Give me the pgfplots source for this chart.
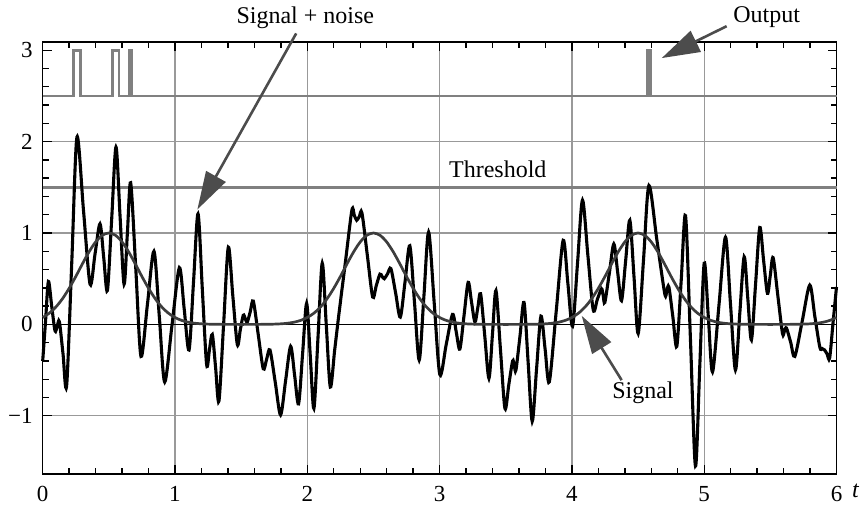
\documentclass[border=0pt]{standalone}
\usepackage{fontspec}
\setmainfont{Liberation Serif}
\usepackage{pgfplots}
\pgfplotsset{compat=1.18}
\usetikzlibrary{arrows.meta}
\definecolor{gridgray}{gray}{0.6}
\definecolor{sig}{gray}{0.24}
\definecolor{thr}{gray}{0.5}
\definecolor{arr}{gray}{0.3}
\begin{document}
\begin{tikzpicture}
\path[use as bounding box] (-21.35pt,-16.35pt) rectangle (410.65pt,237.15pt);
\begin{axis}[
  at={(0pt,0pt)}, anchor=south west,
  scale only axis, width=396.9pt, height=216.15pt,
  xmin=0, xmax=6, ymin=-1.64, ymax=3.09,
  clip=false,
  axis line style={line width=0.8pt},
  tick align=inside,
  xtick={0,1,2,3,4,5,6}, xticklabels={0,1,2,3,4,5,6},
  ytick={-1,0,1,2,3}, yticklabels={−1,0,1,2,3},
  minor x tick num=4, minor y tick num=4,
  major tick length=4.5pt, minor tick length=3pt,
  every tick/.style={black, line width=0.7pt},
  xmajorgrids, grid style={gridgray, line width=0.7pt},
  extra y ticks={-1,1,2}, extra y tick labels={,,},
  extra y tick style={grid=major},
  tick label style={font=\fontsize{11.5}{13}\selectfont},
  xtick pos=both, ytick pos=both,
  xticklabel pos=lower, yticklabel pos=left,
  xticklabel style={yshift=-2.5pt},
  yticklabel style={xshift=-1.5pt},
]
% zero line and threshold
\addplot[black, line width=0.6pt] coordinates {(0,0) (6,0)};
\addplot[thr, line width=1.3pt] coordinates {(0,1.5) (6,1.5)};
% output
\addplot[thr, line width=1.3pt, sharp plot] coordinates {
(0,2.5) (0.231,2.5) (0.231,3) (0.287,3) (0.287,2.5)
(0.526,2.5) (0.526,3) (0.577,3) (0.577,2.5)
(0.658,2.5) (0.658,3) (0.676,3) (0.676,2.5)
(4.572,2.5) (4.572,3) (4.592,3) (4.592,2.5) (6,2.5)};
% signal + noise
\addplot[black, line width=1.55pt, smooth] coordinates {
(0.000,-0.40) (0.0215,0.035) (0.043,0.47) (0.068,0.20) (0.093,-0.07) (0.1095,-0.02)
(0.126,0.03) (0.1535,-0.32) (0.181,-0.67) (0.220,0.69) (0.259,2.05) (0.3085,1.245)
(0.358,0.44) (0.3955,0.77) (0.433,1.10) (0.461,0.735) (0.489,0.37) (0.5215,1.155)
(0.554,1.94) (0.5845,1.19) (0.615,0.44) (0.640,0.995) (0.665,1.55) (0.704,0.60)
(0.743,-0.35) (0.792,0.225) (0.841,0.80) (0.8815,0.085) (0.922,-0.63) (0.9775,-0.005)
(1.033,0.62) (1.0695,0.17) (1.106,-0.28) (1.140,0.465) (1.174,1.21) (1.2065,0.385)
(1.239,-0.44) (1.2605,-0.275) (1.282,-0.11) (1.307,-0.475) (1.332,-0.84) (1.3675,0.0025)
(1.403,0.845) (1.437,0.3125) (1.471,-0.22) (1.4935,-0.06) (1.516,0.10) (1.531,0.0625)
(1.546,0.025) (1.569,0.14) (1.592,0.255) (1.6295,-0.115) (1.667,-0.485) (1.6925,-0.3825)
(1.718,-0.28) (1.758,-0.635) (1.798,-0.99) (1.836,-0.615) (1.874,-0.24) (1.904,-0.555)
(1.934,-0.87) (1.9645,-0.32) (1.995,0.23) (2.0225,-0.345) (2.050,-0.92) (2.0815,-0.125)
(2.113,0.67) (2.1435,-0.0075) (2.174,-0.685) (2.207,-0.28) (2.240,0.125) (2.2885,0.6875)
(2.337,1.25) (2.355,1.195) (2.373,1.14) (2.393,1.18) (2.413,1.22) (2.4535,0.76)
(2.494,0.30) (2.5215,0.425) (2.549,0.55) (2.5655,0.525) (2.582,0.50) (2.607,0.555)
(2.632,0.61) (2.6675,0.345) (2.703,0.08) (2.739,0.47) (2.775,0.86) (2.8105,0.235)
(2.846,-0.39) (2.8815,0.31) (2.917,1.01) (2.9595,0.23) (3.002,-0.55) (3.050,-0.22)
(3.098,0.11) (3.1255,-0.08) (3.153,-0.27) (3.1845,0.095) (3.216,0.46) (3.2415,0.2425)
(3.267,0.025) (3.2885,0.18) (3.310,0.335) (3.3415,-0.1275) (3.373,-0.59) (3.3995,-0.11)
(3.426,0.37) (3.460,-0.275) (3.494,-0.92) (3.523,-0.66) (3.552,-0.40) (3.5645,-0.45)
(3.577,-0.50) (3.6075,-0.13) (3.638,0.24) (3.669,-0.41) (3.700,-1.06) (3.733,-0.485)
(3.766,0.09) (3.7975,-0.27) (3.829,-0.63) (3.8815,0.145) (3.934,0.92) (3.9695,0.45)
(4.005,-0.02) (4.0425,0.67) (4.080,1.36) (4.1205,0.76) (4.161,0.16) (4.1925,0.275)
(4.224,0.39) (4.2365,0.315) (4.249,0.24) (4.283,0.56) (4.317,0.88) (4.346,0.57)
(4.375,0.26) (4.4065,0.70) (4.438,1.14) (4.4695,0.52) (4.501,-0.10) (4.5415,0.71)
(4.582,1.52) (4.642,0.9275) (4.702,0.335) (4.7175,0.3725) (4.733,0.41) (4.763,0.085)
(4.793,-0.24) (4.826,0.475) (4.859,1.19) (4.8965,-0.18) (4.934,-1.55) (4.967,-0.44)
(5.000,0.67) (5.0315,0.075) (5.063,-0.52) (5.112,0.2175) (5.161,0.955) (5.1985,0.2275)
(5.236,-0.50) (5.269,0.12) (5.302,0.74) (5.3295,0.285) (5.357,-0.17) (5.3885,0.445)
(5.420,1.06) (5.449,0.70) (5.478,0.34) (5.4995,0.535) (5.521,0.73) (5.5565,0.315)
(5.592,-0.10) (5.607,-0.07) (5.622,-0.04) (5.6535,-0.195) (5.685,-0.35) (5.7415,0.04)
(5.798,0.43) (5.836,0.09) (5.874,-0.25) (5.892,-0.265) (5.910,-0.28) (5.929,-0.325)
(5.948,-0.37) (5.974,0.02) (6.000,0.41)};
% signal
\addplot[sig, line width=1.35pt, smooth] coordinates {
(0,0.0756) (0.05,0.123) (0.1,0.191) (0.15,0.282) (0.2,0.395) (0.25,0.524) (0.3,0.662)
(0.35,0.793) (0.4,0.902) (0.45,0.975) (0.5,1) (0.55,0.975) (0.6,0.902) (0.65,0.793)
(0.7,0.662) (0.75,0.524) (0.8,0.395) (0.85,0.282) (0.9,0.191) (0.95,0.123) (1,0.0756)
(1.05,0.0439) (1.1,0.0242) (1.15,0.0127) (1.2,0.0063) (1.25,0.003) (1.3,0.0013)
(1.35,0.0006) (1.4,0.0002) (1.45,0.0001) (1.5,0) (1.55,0.0001) (1.6,0.0002) (1.65,0.0006)
(1.7,0.0013) (1.75,0.003) (1.8,0.0063) (1.85,0.0127) (1.9,0.0242) (1.95,0.0439)
(2,0.0756) (2.05,0.123) (2.1,0.191) (2.15,0.282) (2.2,0.395) (2.25,0.524) (2.3,0.662)
(2.35,0.793) (2.4,0.902) (2.45,0.975) (2.5,1) (2.55,0.975) (2.6,0.902) (2.65,0.793)
(2.7,0.662) (2.75,0.524) (2.8,0.395) (2.85,0.282) (2.9,0.191) (2.95,0.123) (3,0.0756)
(3.05,0.0439) (3.1,0.0242) (3.15,0.0127) (3.2,0.0063) (3.25,0.003) (3.3,0.0013)
(3.35,0.0006) (3.4,0.0002) (3.45,0.0001) (3.5,0) (3.55,0.0001) (3.6,0.0002) (3.65,0.0006)
(3.7,0.0013) (3.75,0.003) (3.8,0.0063) (3.85,0.0127) (3.9,0.0242) (3.95,0.0439)
(4,0.0756) (4.05,0.123) (4.1,0.191) (4.15,0.282) (4.2,0.395) (4.25,0.524) (4.3,0.662)
(4.35,0.793) (4.4,0.902) (4.45,0.975) (4.5,1) (4.55,0.975) (4.6,0.902) (4.65,0.793)
(4.7,0.662) (4.75,0.524) (4.8,0.395) (4.85,0.282) (4.9,0.191) (4.95,0.123) (5,0.0756)
(5.05,0.0439) (5.1,0.0242) (5.15,0.0127) (5.2,0.0063) (5.25,0.003) (5.3,0.0013)
(5.35,0.0006) (5.4,0.0002) (5.45,0.0001) (5.5,0) (5.55,0.0001) (5.6,0.0002) (5.65,0.0006)
(5.7,0.0013) (5.75,0.003) (5.8,0.0063) (5.85,0.0127) (5.9,0.0242) (5.95,0.0439)
(6,0.0756)};
% annotations
\draw[arr, line width=1.3pt, -{Triangle[length=19pt, width=11pt]}] (axis cs:1.916,3.184) -- (axis cs:1.169,1.257);
\node[font=\fontsize{12}{14}\selectfont] at (axis cs:1.985,3.358) {Signal + noise};
\draw[arr, line width=1.3pt, -{Triangle[length=19pt, width=11.5pt]}] (axis cs:5.17,3.263) -- (axis cs:4.679,2.914);
\node[font=\fontsize{12}{14}\selectfont] at (axis cs:5.472,3.36) {Output};
\node[font=\fontsize{12}{14}\selectfont] at (axis cs:3.44,1.70) {Threshold};
\draw[arr, line width=1.3pt, -{Triangle[length=19pt, width=11pt]}] (axis cs:4.376,-0.61) -- (axis cs:4.074,0.094);
\node[font=\fontsize{12}{14}\selectfont] at (axis cs:4.537,-0.745) {Signal};
\node[font=\fontsize{12}{14}\selectfont\itshape] at (rel axis cs:1,0) [xshift=9.5pt, yshift=-8.5pt] {t};
\end{axis}
\end{tikzpicture}
\end{document}
